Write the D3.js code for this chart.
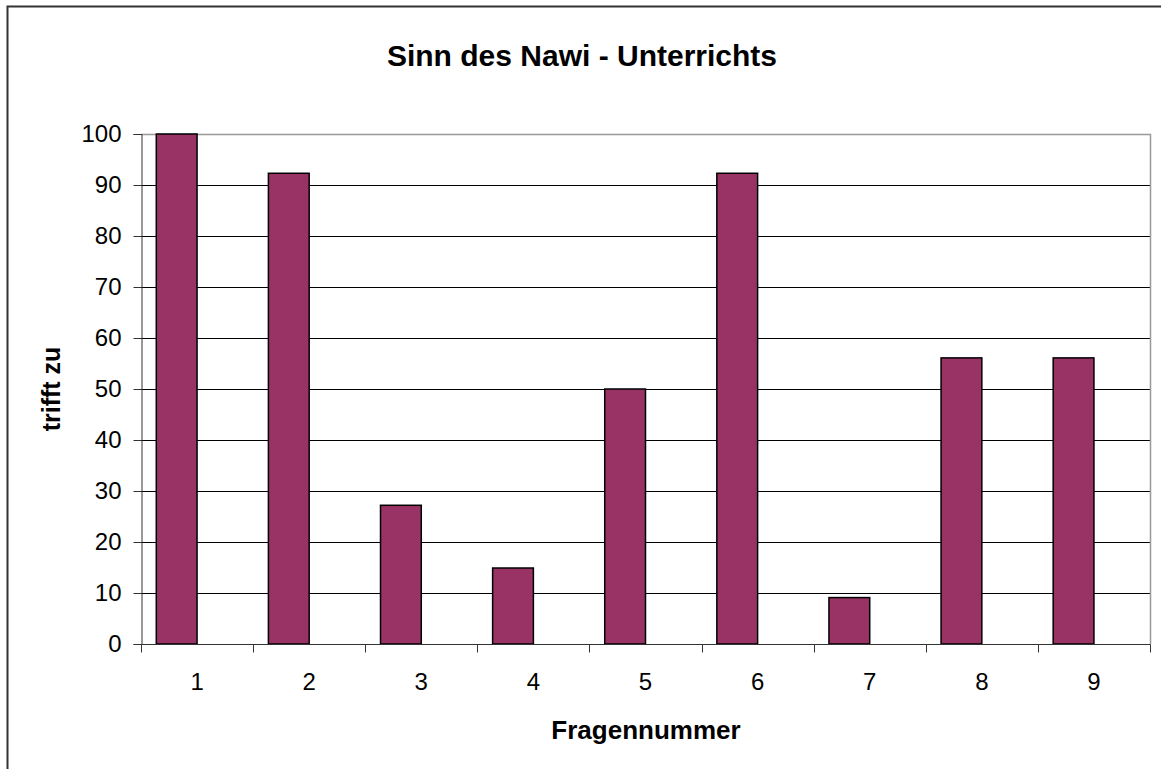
<!DOCTYPE html>
<html><head><meta charset="utf-8">
<script src="https://cdn.jsdelivr.net/npm/d3@7"></script>
<style>body{margin:0;background:#fff}svg{display:block}text{font-family:"Liberation Sans",Arial,sans-serif}</style>
</head><body>
<svg id="c" width="1161" height="769"></svg>
<script>
const categories = ["1","2","3","4","5","6","7","8","9"];
const values = [100, 92.3, 27.2, 14.9, 50, 92.3, 9.1, 56.1, 56.1];
const seriesSlots = ["trifft zu", "(leer)"];
const yTicks = [0,10,20,30,40,50,60,70,80,90,100];
const title = "Sinn des Nawi - Unterrichts";
const xTitle = "Fragennummer";
const yTitle = "trifft zu";

const svg = d3.select("#c");
const L = 141, R = 1150, T = 134, B = 644;

svg.append("path").attr("d", "M7.5,769V6.5H1161").attr("fill","none").attr("stroke","#333").attr("stroke-width",2);

const x = d3.scaleBand().domain(categories).range([L, R]).paddingInner(0).paddingOuter(0);
const inner = d3.scaleBand().domain(seriesSlots).range([0, x.bandwidth()]).paddingInner(0).paddingOuter(48/(2*64));
const y = d3.scaleLinear().domain([0,100]).range([B, T]);

// gridlines
svg.append("g").selectAll("line").data(yTicks.filter(d=>d>0 && d<100)).join("line")
  .attr("x1", L).attr("x2", R).attr("y1", d=>Math.round(y(d))+0.5).attr("y2", d=>Math.round(y(d))+0.5)
  .attr("stroke","#000").attr("stroke-width",1);
// plot border top/right
svg.append("path").attr("d", `M${L},${T+0.5}H${R+0.5}V${B}`).attr("fill","none").attr("stroke","#999").attr("stroke-width",1.5);

// bars
svg.append("g").selectAll("rect").data(values).join("rect")
  .attr("x", (d,i)=> x(categories[i]) + inner(seriesSlots[0]))
  .attr("width", inner.bandwidth())
  .attr("y", d=>y(d)).attr("height", d=>B - y(d))
  .attr("fill","#993366").attr("stroke","#000").attr("stroke-width",1.5);

// y axis
const yAxis = d3.axisLeft(y).tickValues(yTicks).tickSize(8).tickPadding(12);
const gy = svg.append("g").attr("transform", `translate(${L+0.5},0)`).call(yAxis);
gy.select(".domain").attr("stroke","#333");
gy.selectAll(".tick line").attr("stroke","#333");
gy.selectAll("text").attr("font-size", 24).attr("fill","#000").style("font-family","Liberation Sans, Arial, sans-serif");

// x axis
const xAxis = d3.axisBottom(x).tickSize(0).tickPadding(28);
const gx = svg.append("g").attr("transform", `translate(0,${B+0.5})`).call(xAxis);
gx.select(".domain").attr("stroke","#333").attr("d", `M${L},0H${R+0.5}`);
gx.selectAll("text").attr("font-size", 24).attr("fill","#000").style("font-family","Liberation Sans, Arial, sans-serif");
gx.selectAll(".sep").data(d3.range(categories.length+1)).join("line").attr("class","sep")
  .attr("x1", i=> i<categories.length ? Math.round(x(categories[i]))+0.5 : R+0.5)
  .attr("x2", i=> i<categories.length ? Math.round(x(categories[i]))+0.5 : R+0.5)
  .attr("y1",0).attr("y2",8).attr("stroke","#333");

// titles
svg.append("text").attr("x", 582).attr("y", 66).attr("text-anchor","middle")
  .attr("font-size", 30).attr("font-weight","bold").text(title);
svg.append("text").attr("x", 646).attr("y", 739).attr("text-anchor","middle")
  .attr("font-size", 26).attr("font-weight","bold").text(xTitle);
svg.append("text").attr("transform", `translate(60,389) rotate(-90)`).attr("text-anchor","middle")
  .attr("font-size", 25).attr("font-weight","bold").text(yTitle);
</script>
</body></html>
